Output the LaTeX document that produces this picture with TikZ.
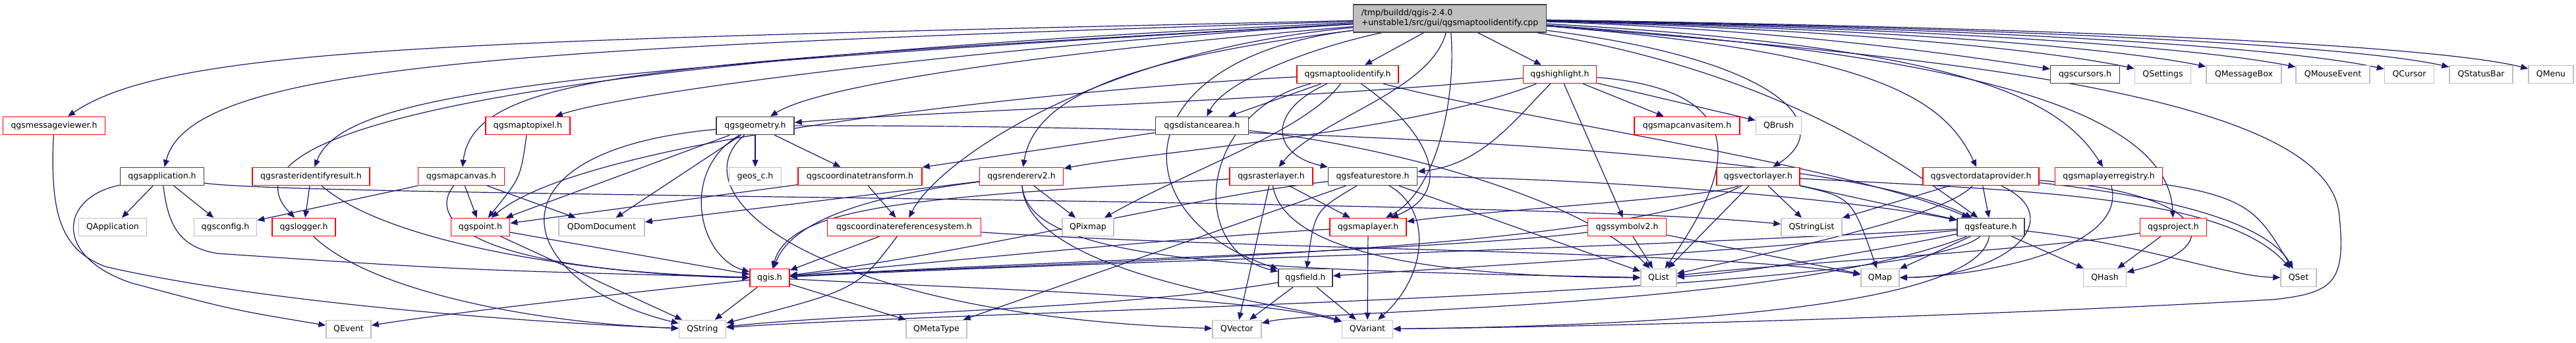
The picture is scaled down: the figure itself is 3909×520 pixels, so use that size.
\documentclass[tikz,border=0pt]{standalone}
\usepackage{fontspec}
\setmainfont{DejaVu Sans}
\usetikzlibrary{arrows.meta}
\definecolor{edgec}{HTML}{191970}
\definecolor{grayb}{HTML}{BFBFBF}
\definecolor{blackb}{HTML}{404040}
\pgfdeclarelayer{edges}
\pgfdeclarelayer{bgl}
\pgfsetlayers{bgl,edges,main}
\tikzset{
 box/.style={draw, line width=1.5pt, minimum height=27pt, inner sep=0pt, fill=white, font=\fontsize{12.5}{14}\selectfont},
 rb/.style={box, draw=red},
 kb/.style={box, draw=blackb},
 gb/.style={box, draw=grayb},
 rootbox/.style={draw=blackb, fill=grayb, line width=1.5pt, minimum width=293pt, minimum height=42pt, inner sep=0pt, align=left, font=\fontsize{12.5}{15}\selectfont},
 e/.style={draw=edgec, line width=1.2pt, -{Triangle[length=11pt,width=9pt]}},
}
\begin{document}
\begin{tikzpicture}[x=1pt,y=-1pt]
\begin{pgfonlayer}{bgl}
\fill[white] (0,0) rectangle (3909,520);
\end{pgfonlayer}
\useasboundingbox (0,0) rectangle (3909,520);
% row 0
\node[rootbox] (R) at (2200,28) {/tmp/buildd/qgis-2.4.0\\+unstable1/src/gui/qgsmaptoolidentify.cpp};
% row 1
\node[rb, minimum width=154pt] (mti) at (2045,113) {qgsmaptoolidentify.h};
\node[rb, minimum width=111pt] (hl) at (2367,113) {qgshighlight.h};
\node[kb, minimum width=105pt] (cursors) at (3164,113) {qgscursors.h};
\node[gb, minimum width=85pt] (qsettings) at (3282,113) {QSettings};
\node[gb, minimum width=114pt] (qmsgbox) at (3405,113) {QMessageBox};
\node[gb, minimum width=112pt] (qmouse) at (3540,113) {QMouseEvent};
\node[gb, minimum width=75pt] (qcursor) at (3656,113) {QCursor};
\node[gb, minimum width=96pt] (qstatus) at (3765,113) {QStatusBar};
\node[gb, minimum width=68pt] (qmenu) at (3871,113) {QMenu};
% row 2
\node[rb, minimum width=155pt] (msgv) at (82,191) {qgsmessageviewer.h};
\node[rb, minimum width=128pt] (m2p) at (801,191) {qgsmaptopixel.h};
\node[kb, minimum width=118pt] (geom) at (1146,191) {qgsgeometry.h};
\node[kb, minimum width=141pt] (dist) at (1824,191) {qgsdistancearea.h};
\node[rb, minimum width=160pt] (citem) at (2560,191) {qgsmapcanvasitem.h};
\node[gb, minimum width=69pt] (qbrush) at (2699,191) {QBrush};
% row 3
\node[kb, minimum width=127pt] (app) at (246,268) {qgsapplication.h};
\node[rb, minimum width=178pt] (rir) at (472,268) {qgsrasteridentifyresult.h};
\node[rb, minimum width=131pt] (canvas) at (700,268) {qgsmapcanvas.h};
\node[gb, minimum width=79pt] (geos) at (1146,268) {geos\_c.h};
\node[rb, minimum width=188pt] (ctrans) at (1305,268) {qgscoordinatetransform.h};
\node[rb, minimum width=127pt] (rend) at (1550,268) {qgsrendererv2.h};
\node[rb, minimum width=126pt] (rlayer) at (1929,268) {qgsrasterlayer.h};
\node[kb, minimum width=135pt] (fstore) at (2083,268) {qgsfeaturestore.h};
\node[rb, minimum width=126pt] (vlayer) at (2668,268) {qgsvectorlayer.h};
\node[rb, minimum width=176pt] (vdp) at (3006,268) {qgsvectordataprovider.h};
\node[rb, minimum width=163pt] (mlr) at (3200,268) {qgsmaplayerregistry.h};
% row 4
\node[gb, minimum width=103pt] (qapp) at (171,345) {QApplication};
\node[gb, minimum width=95pt] (qgsconfig) at (342,345) {qgsconfig.h};
\node[rb, minimum width=96pt] (logger) at (461,345) {qgslogger.h};
\node[rb, minimum width=89pt] (qgspoint) at (729,345) {qgspoint.h};
\node[gb, minimum width=130pt] (qdom) at (913,345) {QDomDocument};
\node[rb, minimum width=233pt] (crs) at (1372,345) {qgscoordinatereferencesystem.h};
\node[gb, minimum width=78pt] (qpixmap) at (1651,345) {QPixmap};
\node[rb, minimum width=116pt] (mlayer) at (2076,345) {qgsmaplayer.h};
\node[rb, minimum width=119pt] (symbol) at (2469,345) {qgssymbolv2.h};
\node[gb, minimum width=92pt] (qstrlist) at (2749,345) {QStringList};
\node[kb, minimum width=102pt] (feat) at (3021,345) {qgsfeature.h};
\node[rb, minimum width=101pt] (proj) at (3298,345) {qgsproject.h};
% row 5
\node[rb, minimum width=60pt] (qgis) at (1168,422) {qgis.h};
\node[kb, minimum width=82pt] (field) at (1981,422) {qgsfield.h};
\node[gb, minimum width=54pt] (qlist) at (2517,422) {QList};
\node[gb, minimum width=58pt] (qmap) at (2853,422) {QMap};
\node[gb, minimum width=65pt] (qhash) at (3194,422) {QHash};
\node[gb, minimum width=54pt] (qset) at (3488,422) {QSet};
% row 6
\node[gb, minimum width=68pt] (qevent) at (529,500) {QEvent};
\node[gb, minimum width=71pt] (qstring) at (1066,500) {QString};
\node[gb, minimum width=92pt] (qmeta) at (1421,500) {QMetaType};
\node[gb, minimum width=74pt] (qvector) at (1877,500) {QVector};
\node[gb, minimum width=77pt] (qvariant) at (2075,500) {QVariant};

\begin{pgfonlayer}{edges}
% root
\draw[e] (R) .. controls (700,62) and (260,70) .. (msgv);
\draw[e] (R) .. controls (800,72) and (290,95) .. (app);
\draw[e] (R) .. controls (850,105) and (520,140) .. (rir);
\draw[e] (R) .. controls (700,95) and (330,210) .. (logger);
\draw[e] (R) .. controls (1000,95) and (720,110) .. (canvas);
\draw[e] (R) .. controls (1500,70) and (950,140) .. (m2p);
\draw[e] (R) .. controls (1700,70) and (1260,120) .. (geom);
\draw[e] (R) .. controls (2000,70) and (1860,120) .. (dist);
\draw[e] (R) .. controls (1650,80) and (1420,250) .. (crs);
\draw[e] (R) .. controls (1700,90) and (1570,150) .. (rend);
\draw[e] (R) .. controls (2170,140) and (2000,180) .. (rlayer);
\draw[e] (R) -- (mti);
\draw[e] (R) -- (hl);
\draw[e] (R) .. controls (2210,150) and (2180,290) .. (mlayer);
\draw[e] (R) .. controls (1700,90) and (1700,330) .. (field);
\draw[e] (R) .. controls (2700,45) and (2950,80) .. (cursors);
\draw[e] (R) .. controls (2800,45) and (3100,75) .. (qsettings);
\draw[e] (R) .. controls (2900,45) and (3220,75) .. (qmsgbox);
\draw[e] (R) .. controls (3000,45) and (3350,75) .. (qmouse);
\draw[e] (R) .. controls (3100,45) and (3480,75) .. (qcursor);
\draw[e] (R) .. controls (3200,45) and (3600,75) .. (qstatus);
\draw[e] (R) .. controls (3300,45) and (3720,75) .. (qmenu);
\draw[e] (R) .. controls (2700,90) and (2790,190) .. (vlayer);
\draw[e] (R) .. controls (2850,80) and (2950,150) .. (vdp);
\draw[e] (R) .. controls (2950,70) and (3120,140) .. (mlr);
\draw[e] (R) .. controls (2700,110) and (2890,250) .. (feat);
\draw[e] (R) .. controls (2950,80) and (3290,160) .. (proj);
\draw[e] (R) .. controls (3000,90) and (3540,150) .. (3550,330) .. controls (3560,430) and (3540,445) .. (3450,455) .. controls (3000,480) and (2500,495) .. (qvariant);
% qgsmaptoolidentify.h
\draw[e] (mti) -- (dist);
\draw[e] (mti) .. controls (2170,200) and (2210,290) .. (mlayer);
\draw[e] (mti) .. controls (1920,170) and (1930,235) .. (fstore.north west);
\draw[e] (mti) .. controls (1980,200) and (1800,260) .. (qpixmap);
\draw[e] (mti) .. controls (1820,170) and (1800,380) .. (field);
\draw[e] (mti) .. controls (2300,180) and (2800,250) .. (feat);
\draw[e] (mti) .. controls (1700,130) and (900,200) .. (qgspoint);
% qgshighlight.h
\draw[e] (hl) .. controls (2000,150) and (1400,170) .. (geom);
\draw[e] (hl) -- (citem);
\draw[e] (hl) -- (qbrush);
\draw[e] (hl) -- (symbol);
\draw[e] (hl) .. controls (2150,200) and (1750,230) .. (rend);
\draw[e] (hl) .. controls (2300,180) and (2250,250) .. (fstore);
\draw[e] (hl) .. controls (2700,140) and (2600,300) .. (qlist);
% qgsmessageviewer.h
\draw[e] (msgv) .. controls (75,330) and (95,380) .. (160,405) .. controls (400,460) and (800,490) .. (qstring);
% qgsapplication.h
\draw[e] (app) -- (qapp);
\draw[e] (app) -- (qgsconfig);
\draw[e] (app) .. controls (90,300) and (80,390) .. (200,430) .. controls (350,470) .. (qevent);
\draw[e] (app) .. controls (255,340) and (270,375) .. (330,385) .. controls (700,410) .. (qgis);
\draw[e] (app) .. controls (450,300) and (2300,300) .. (qstrlist);
% qgsrasteridentifyresult.h
\draw[e] (rir) -- (logger);
\draw[e] (rir) .. controls (600,380) and (950,420) .. (qgis);
% qgslogger.h
\draw[e] (logger) .. controls (560,440) and (800,490) .. (qstring);
% qgsmapcanvas.h
\draw[e] (canvas) -- (qgsconfig);
\draw[e] (canvas) -- (qgspoint);
\draw[e] (canvas) -- (qdom);
\draw[e] (canvas) .. controls (650,330) and (700,410) .. (qgis);
% qgsmaptopixel.h
\draw[e] (m2p) .. controls (790,270) .. (qgspoint);
% qgsgeometry.h
\draw[e] (geom) .. controls (720,230) and (780,430) .. (qstring);
\draw[e] (geom) -- (qgspoint);
\draw[e] (geom) -- (qdom);
\draw[e] (geom) -- (geos);
\draw[e] (geom) -- (ctrans);
\draw[e] (geom) .. controls (1700,190) and (2750,210) .. (feat);
\draw[e] (geom) .. controls (1030,260) and (1060,390) .. (qgis);
\draw[e] (geom) .. controls (1020,300) and (1250,480) .. (qvector);
% qgsdistancearea.h
\draw[e] (dist) -- (ctrans);
\draw[e] (dist) .. controls (2100,220) and (2400,300) .. (qlist);
% qgscoordinatetransform.h
\draw[e] (ctrans) -- (crs);
\draw[e] (ctrans) -- (qgspoint);
% qgsrendererv2.h
\draw[e] (rend) .. controls (1300,300) and (1200,340) .. (qgis);
\draw[e] (rend) -- (qpixmap);
\draw[e] (rend) .. controls (1560,420) and (1950,460) .. (qvariant);
\draw[e] (rend) .. controls (1560,400) and (1900,410) .. (qlist);
\draw[e] (rend) -- (qdom);
% qgsrasterlayer.h
\draw[e] (rlayer) -- (mlayer);
\draw[e] (rlayer) -- (qvector);
\draw[e] (rlayer) .. controls (1950,390) and (2200,420) .. (qlist);
\draw[e] (rlayer) .. controls (1400,300) and (1200,310) .. (qgis);
% qgsfeaturestore.h
\draw[e] (fstore) .. controls (1995,320) .. (field);
\draw[e] (fstore) -- (qlist);
\draw[e] (fstore) .. controls (2175,320) and (2165,420) .. (qvariant);
\draw[e] (fstore) -- (qmeta);
\draw[e] (fstore) .. controls (2400,270) and (2800,300) .. (feat);
\draw[e] (fstore) .. controls (1800,300) and (1500,380) .. (qgis);
% qgsvectorlayer.h
\draw[e] (vlayer) .. controls (2600,300) and (2250,320) .. (mlayer);
\draw[e] (vlayer) -- (qstrlist);
\draw[e] (vlayer) -- (feat);
\draw[e] (vlayer) .. controls (2810,300) .. (qmap);
\draw[e] (vlayer) .. controls (3100,290) and (3380,300) .. (qset);
\draw[e] (vlayer) -- (qlist);
\draw[e] (vlayer) .. controls (2450,390) and (1500,400) .. (qgis);
% qgsvectordataprovider.h
\draw[e] (vdp) -- (feat);
\draw[e] (vdp) -- (qstrlist);
\draw[e] (vdp) .. controls (3140,330) and (3050,420) .. (qmap);
\draw[e] (vdp) .. controls (3300,300) and (3440,340) .. (qset);
\draw[e] (vdp) .. controls (3330,290) and (3400,370) .. (qhash);
\draw[e] (vdp) .. controls (2950,330) and (2700,380) .. (qlist);
% qgsmaplayerregistry.h
\draw[e] (mlr) .. controls (3230,380) and (3000,420) .. (qmap);
\draw[e] (mlr) .. controls (3420,300) and (3430,330) .. (qset);
% row 4 sources
\draw[e] (qgspoint) -- (qgis);
\draw[e] (qgspoint) -- (qstring);
\draw[e] (crs) -- (qgis);
\draw[e] (crs) .. controls (1300,440) .. (qstring);
\draw[e] (crs) .. controls (1900,380) and (2600,380) .. (qmap);
\draw[e] (mlayer) -- (qvariant);
\draw[e] (mlayer) .. controls (1800,360) and (1400,400) .. (qgis);
\draw[e] (symbol) -- (qlist);
\draw[e] (symbol) -- (qmap);
\draw[e] (symbol) .. controls (2200,380) and (1500,400) .. (qgis);
\draw[e] (feat) -- (qmap);
\draw[e] (feat) .. controls (2850,380) and (2650,415) .. (qlist);
\draw[e] (feat) -- (qhash);
\draw[e] (feat) .. controls (3250,370) and (3380,420) .. (qset);
\draw[e] (feat) .. controls (3000,470) and (2500,495) .. (qvariant);
\draw[e] (feat) .. controls (2900,450) and (1500,470) .. (qstring);
\draw[e] (feat) .. controls (2700,470) and (2000,470) .. (qvector);
\draw[e] (feat) .. controls (2600,385) and (2150,410) .. (field);
\draw[e] (feat) .. controls (2400,380) and (1600,400) .. (qgis);
\draw[e] (proj) -- (qhash);
\draw[e] (proj) .. controls (3100,380) and (2700,400) .. (qlist);
% row 5 sources
\draw[e] (qgis) -- (qstring);
\draw[e] (qgis) .. controls (900,450) and (650,480) .. (qevent);
\draw[e] (qgis) -- (qmeta);
\draw[e] (qgis) .. controls (1500,440) and (1900,450) .. (qvariant);
\draw[e] (field) .. controls (1700,470) and (1300,475) .. (qstring);
\draw[e] (field) -- (qvariant);
\draw[e] (field) -- (qvector);
\end{pgfonlayer}
\end{tikzpicture}
\end{document}
